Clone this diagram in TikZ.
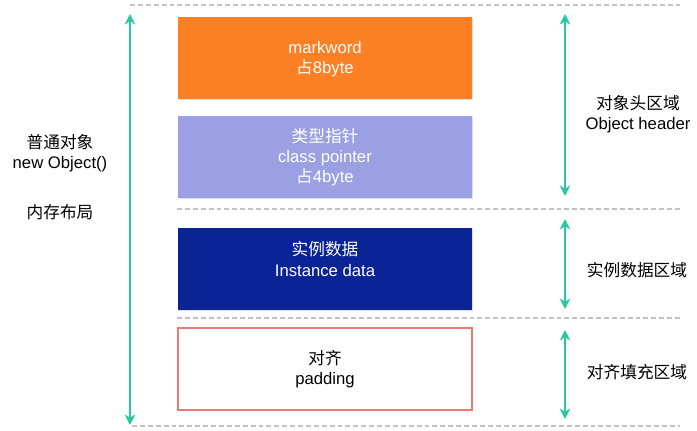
\documentclass[tikz,border=0pt]{standalone}
\usepackage{fontspec}
\setmainfont{Liberation Sans}
\newfontfamily\cjk{Noto Sans CJK SC}
\usetikzlibrary{arrows.meta,shadows}

\definecolor{markorange}{RGB}{253,128,37}
\definecolor{ptrlavender}{RGB}{155,160,226}
\definecolor{datablue}{RGB}{10,36,150}
\definecolor{padred}{RGB}{236,120,120}
\definecolor{spanteal}{RGB}{40,200,160}
\definecolor{rulegray}{RGB}{195,195,195}

\begin{document}
\begin{tikzpicture}[x=0.02cm, y=-0.02cm, font=\fontsize{9.5}{11.5}\selectfont]
\useasboundingbox (0,0) rectangle (697,430);

\coordinate (R1_1) at (130, 5);
\coordinate (R1_2) at (680, 5);
\coordinate (R2_1) at (177, 209);
\coordinate (R2_2) at (680, 209);
\coordinate (R3_1) at (177, 318);
\coordinate (R3_2) at (680, 318);
\coordinate (R4_1) at (132, 426);
\coordinate (R4_2) at (680, 426);

\coordinate (L_top) at (130, 14);
\coordinate (L_bot) at (130, 425);
\coordinate (H_top) at (565, 14);
\coordinate (H_bot) at (565, 196);
\coordinate (I_top) at (565, 219);
\coordinate (I_bot) at (565, 309);
\coordinate (P_top) at (565, 330);
\coordinate (P_bot) at (565, 419);

\tikzset{RuleStyle/.style = {rulegray, line width=1.1pt, dash pattern=on 2.8pt off 1.7pt} }
\tikzset{SpanStyle/.style = {spanteal, line width=1.4pt, {Stealth[length=6pt,width=6pt]}-{Stealth[length=6pt,width=6pt]}} }
\tikzset{BlockStyle/.style = {
 shape = rectangle,
 minimum width = 5.88cm,
 minimum height = 1.64cm,
 align = center,
 drop shadow = {opacity=0.25, shadow xshift=0.4pt, shadow yshift=-0.6pt} } }

\draw[RuleStyle] (R1_1) -- (R1_2);
\draw[RuleStyle] (R2_1) -- (R2_2);
\draw[RuleStyle] (R3_1) -- (R3_2);
\draw[RuleStyle] (R4_1) -- (R4_2);

\node[BlockStyle, fill=markorange, text=white] (markword) at (325, 58) {};
\node[text=white, align=center] (markword_t) at (325, 59) {markword\\{\cjk 占}8byte};

\node[BlockStyle, fill=ptrlavender, text=white] (classptr) at (325, 157) {{\cjk 类型指针}\\class pointer\\{\cjk 占}4byte};

\node[BlockStyle, fill=datablue] (instdata) at (325, 269) {};
\node[text=white, align=center] (instdata_t) at (325, 259) {{\cjk 实例数据}\\Instance data};

\node[BlockStyle, fill=white, draw=padred, line width=0.9pt] (padding) at (325, 369) {{\cjk 对齐}\\padding};

\draw[SpanStyle] (L_top) -- (L_bot);
\draw[SpanStyle] (H_top) -- (H_bot);
\draw[SpanStyle] (I_top) -- (I_bot);
\draw[SpanStyle] (P_top) -- (P_bot);

\node[align=center] (objnew) at (60, 153) {{\cjk 普通对象}\\new Object()};
\node (layout) at (60, 212) {\cjk 内存布局};
\node[align=center] (headarea) at (638, 114) {{\cjk 对象头区域}\\Object header};
\node (dataarea) at (637, 270) {\cjk 实例数据区域};
\node (padarea) at (637, 372) {\cjk 对齐填充区域};

\end{tikzpicture}
\end{document}
